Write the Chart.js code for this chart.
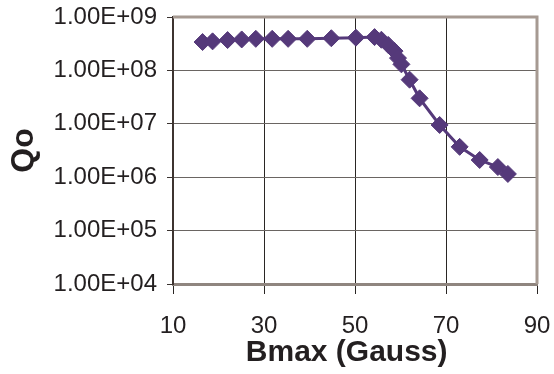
<!DOCTYPE html>
<html>
<head>
<meta charset="utf-8">
<script src="https://cdn.jsdelivr.net/npm/chart.js@4/dist/chart.umd.min.js"></script>
<style>
  html, body { margin: 0; padding: 0; background: #ffffff; }
  #wrap { width: 554px; height: 374px; }
</style>
</head>
<body>
<div id="wrap"><canvas id="c" width="554" height="374"></canvas></div>
<script>
// Peak magnetic field (Gauss) and unloaded quality factor
const bmax = [16.5, 18.7, 22.0, 25.1, 28.2, 31.8, 35.3, 39.5, 44.8, 50.2,
              54.3, 55.8, 57.3, 58.7, 59.45, 60.2, 62.0, 64.2, 68.6, 73.0,
              77.4, 81.4, 83.6];
const qo = [3.4e8, 3.5e8, 3.7e8, 3.8e8, 3.9e8, 3.9e8, 3.9e8, 3.9e8, 4.0e8, 4.1e8,
            4.2e8, 3.75e8, 3.0e8, 2.3e8, 1.7e8, 1.3e8, 6.7e7, 3.0e7, 9.5e6, 3.7e6,
            2.1e6, 1.55e6, 1.15e6];
const xTicks = [10, 30, 50, 70, 90];
const yTicks = [1e4, 1e5, 1e6, 1e7, 1e8, 1e9];
const yTickLabels = ['1.00E+04', '1.00E+05', '1.00E+06', '1.00E+07', '1.00E+08', '1.00E+09'];

const points = bmax.map((b, i) => ({ x: b, y: qo[i] }));
const purple = '#55397a';

// Grey-brown frame along the top and right of the plot area
const frame = {
  id: 'frame',
  afterDraw(chart) {
    const { ctx, chartArea: a } = chart;
    ctx.save();
    ctx.strokeStyle = '#a69a92';
    ctx.lineWidth = 3;
    ctx.beginPath();
    ctx.moveTo(a.left, a.top);
    ctx.lineTo(a.right, a.top);
    ctx.lineTo(a.right, a.bottom);
    ctx.stroke();
    ctx.restore();
  }
};

new Chart(document.getElementById('c'), {
  type: 'scatter',
  data: {
    datasets: [{
      data: points,
      showLine: true,
      borderColor: purple,
      borderWidth: 3,
      backgroundColor: purple,
      pointStyle: 'rectRot',
      pointRadius: 8.5,
      pointBorderWidth: 1,
      pointBorderColor: purple,
      pointBackgroundColor: purple,
      tension: 0
    }]
  },
  options: {
    responsive: false,
    animation: false,
    devicePixelRatio: 1,
    layout: { padding: { top: 17, right: 17, bottom: 0, left: 0 } },
    plugins: { legend: { display: false }, tooltip: { enabled: false } },
    scales: {
      x: {
        type: 'linear',
        min: 10,
        max: 90,
        afterBuildTicks: s => { s.ticks = xTicks.map(v => ({ value: v })); },
        afterFit: s => { s.height = 90; s.paddingLeft = 0; s.paddingRight = 0; },
        ticks: {
          color: '#231f20',
          font: { family: 'Liberation Sans, Arial, sans-serif', size: 24 },
          padding: 18,
          maxRotation: 0
        },
        grid: {
          color: ctx => (ctx.tick && (ctx.tick.value === 10 || ctx.tick.value === 90)) ? 'rgba(0,0,0,0)' : '#2a2624',
          tickColor: '#2a2624',
          lineWidth: 1,
          tickLength: 10
        },
        border: { color: '#8f857f', width: 3 },
        title: {
          display: true,
          text: 'Bmax (Gauss)  ',
          color: '#231f20',
          font: { family: 'Liberation Sans, Arial, sans-serif', size: 30, weight: 'bold' },
          padding: { top: 0, bottom: 3 }
        }
      },
      y: {
        type: 'logarithmic',
        min: 1e4,
        max: 1e9,
        afterBuildTicks: s => { s.ticks = yTicks.map(v => ({ value: v })); },
        afterFit: s => { s.width = 173; s.paddingTop = 0; s.paddingBottom = 0; },
        ticks: {
          color: '#231f20',
          font: { family: 'Liberation Sans, Arial, sans-serif', size: 24 },
          padding: 10,
          callback: v => yTickLabels[yTicks.indexOf(v)]
        },
        grid: {
          color: ctx => (ctx.tick && (ctx.tick.value === 1e4 || ctx.tick.value === 1e9)) ? 'rgba(0,0,0,0)' : '#6a6562',
          tickColor: '#3a3330',
          lineWidth: 1,
          tickLength: 6
        },
        border: { color: '#3e3430', width: 2 },
        title: {
          display: true,
          text: 'Qo',
          color: '#231f20',
          font: { family: 'Liberation Sans, Arial, sans-serif', size: 32, weight: 'bold' },
          padding: { top: 5, bottom: 0 }
        }
      }
    }
  },
  plugins: [frame]
});
</script>
</body>
</html>
